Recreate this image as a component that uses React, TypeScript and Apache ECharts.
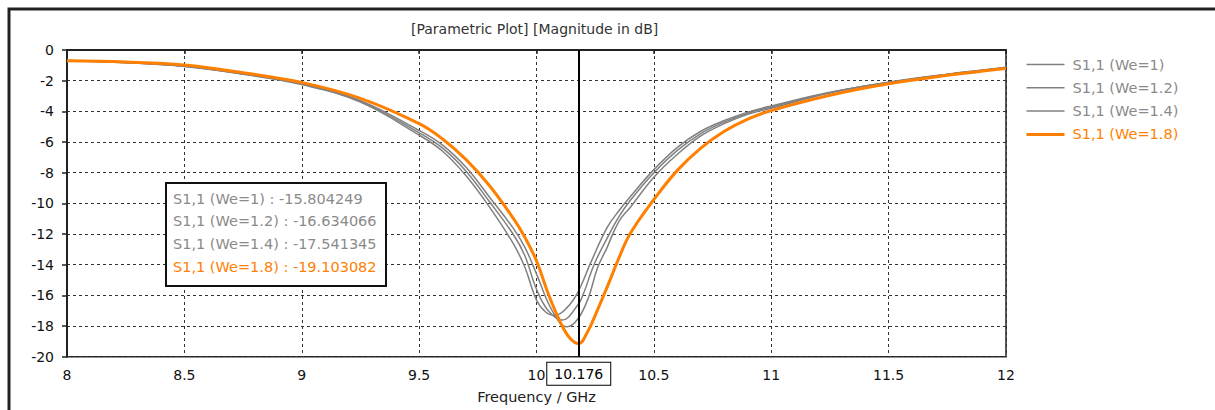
import React, { useEffect, useRef } from 'react';
import * as echarts from 'echarts';

const FONT = '"DejaVu Sans", Verdana, sans-serif';

const titleText = '[Parametric Plot] [Magnitude in dB]';
const xAxisName = 'Frequency / GHz';
const markerFreq = 10.176;

const seriesNames = ['S1,1 (We=1)', 'S1,1 (We=1.2)', 'S1,1 (We=1.4)', 'S1,1 (We=1.8)'];
const seriesColors = ['#808080', '#808080', '#808080', '#ff8000'];
const textColors = ['#8a8a8a', '#8a8a8a', '#8a8a8a', '#ff8000'];
const lineWidths = [1.5, 1.5, 1.5, 3];

const markerValues = ['-15.804249', '-16.634066', '-17.541345', '-19.103082'];

const we1: number[][] = [
  [8, -0.7], [8.25, -0.83], [8.5, -1.07], [8.75, -1.58], [9, -2.25], [9.25, -3.4],
  [9.5, -5.55], [9.6, -6.6], [9.7, -8.2], [9.8, -10.25], [9.9, -12.6], [9.95, -14.15],
  [10.0, -16.3], [10.04, -17.1], [10.08, -17.3], [10.13, -16.8], [10.176, -15.8],
  [10.23, -13.9], [10.3, -11.6], [10.35, -10.5], [10.4, -9.55], [10.5, -7.8], [10.6, -6.35],
  [10.7, -5.3], [10.8, -4.6], [10.9, -4.05], [11, -3.65], [11.25, -2.76], [11.5, -2.1],
  [11.75, -1.58], [12, -1.13],
];

const we12: number[][] = [
  [8, -0.69], [8.25, -0.82], [8.5, -1.06], [8.75, -1.56], [9, -2.22], [9.25, -3.35],
  [9.5, -5.4], [9.6, -6.4], [9.7, -7.9], [9.8, -9.9], [9.9, -12.0], [9.95, -13.4],
  [10.0, -15.6], [10.05, -17.0], [10.11, -17.6], [10.176, -16.63], [10.2, -15.9],
  [10.245, -14.0], [10.3, -12.3], [10.35, -10.9], [10.4, -9.8], [10.5, -8.0], [10.6, -6.55],
  [10.7, -5.45], [10.8, -4.7], [10.9, -4.12], [11, -3.72], [11.25, -2.78], [11.5, -2.11],
  [11.75, -1.59], [12, -1.14],
];

const we14: number[][] = [
  [8, -0.68], [8.25, -0.81], [8.5, -1.05], [8.75, -1.55], [9, -2.2], [9.25, -3.3],
  [9.5, -5.25], [9.6, -6.2], [9.7, -7.65], [9.8, -9.6], [9.9, -11.6], [9.95, -12.85],
  [10.0, -14.6], [10.05, -16.5], [10.1, -17.8], [10.13, -18.05], [10.176, -17.54],
  [10.22, -16.2], [10.26, -14.2], [10.3, -12.9], [10.35, -11.2], [10.4, -10.25], [10.5, -8.3],
  [10.6, -6.8], [10.7, -5.6], [10.8, -4.8], [10.9, -4.2], [11, -3.8], [11.25, -2.8],
  [11.5, -2.12], [11.75, -1.6], [12, -1.15],
];

const we18: number[][] = [
  [8, -0.7], [8.25, -0.78], [8.5, -0.98], [8.75, -1.48], [9, -2.12], [9.25, -3.15],
  [9.5, -4.8], [9.6, -5.8], [9.7, -7.15], [9.8, -8.85], [9.9, -10.95], [9.95, -12.2],
  [10.0, -13.75], [10.05, -15.9], [10.1, -17.7], [10.14, -18.75], [10.18, -19.15],
  [10.22, -18.3], [10.25, -17.3], [10.3, -15.5], [10.35, -13.6], [10.4, -11.95], [10.5, -9.75],
  [10.6, -7.85], [10.7, -6.4], [10.8, -5.3], [10.9, -4.5], [11, -3.95], [11.25, -2.95],
  [11.5, -2.2], [11.75, -1.65], [12, -1.2],
];

const seriesData = [we1, we12, we14, we18];

export default function App() {
  const ref = useRef<HTMLDivElement>(null);

  useEffect(() => {
    if (!ref.current) return;
    const chart = echarts.init(ref.current, undefined, { renderer: 'svg' });

    const series: any[] = seriesData.map((d, i) => ({
      name: seriesNames[i],
      type: 'line',
      data: d,
      showSymbol: false,
      symbol: 'none',
      smooth: 0.4,
      lineStyle: { color: seriesColors[i], width: lineWidths[i] },
      itemStyle: { color: seriesColors[i] },
      z: 3 + i,
      silent: true,
    }));

    series[3].markLine = {
      silent: true,
      symbol: ['none', 'none'],
      lineStyle: { color: '#000', width: 2, type: 'solid' },
      label: {
        show: true,
        position: 'start',
        distance: 6,
        formatter: String(markerFreq),
        color: '#000',
        fontFamily: FONT,
        fontSize: 14,
        lineHeight: 14,
        borderColor: '#000',
        borderWidth: 1,
        padding: [4, 7, 4, 7],
        backgroundColor: '#fff',
      },
      data: [{ xAxis: markerFreq }],
      z: 10,
    };

    const boxLeft = 166;
    const boxTop = 183;
    const annotationTexts = seriesNames.map((n, i) => ({
      type: 'text',
      left: boxLeft + 7,
      top: boxTop + 8 + i * 22.7,
      style: {
        text: `${n} : ${markerValues[i]}`,
        fill: textColors[i],
        font: `14.5px ${FONT}`,
      },
      z: 21,
    }));

    chart.setOption({
      animation: false,
      textStyle: { fontFamily: FONT },
      title: {
        text: titleText,
        left: 411,
        top: 22,
        padding: 0,
        textStyle: { fontSize: 14, fontWeight: 'normal', color: '#333', fontFamily: FONT },
      },
      legend: {
        orient: 'vertical',
        left: 1025,
        top: 57,
        padding: 0,
        itemWidth: 38,
        itemHeight: 14,
        itemGap: 8.3,
        selectedMode: false,
        textStyle: { fontSize: 14.5, lineHeight: 14, fontFamily: FONT, padding: [0, 0, 0, 3] },
        data: seriesNames.map((n, i) => ({
          name: n,
          itemStyle: { opacity: 0 },
          lineStyle: { color: seriesColors[i], width: lineWidths[i], opacity: 1 },
          textStyle: { color: textColors[i] },
        })),
      },
      grid: {
        left: 67,
        top: 50,
        right: 209,
        bottom: 53.3,
        show: true,
        borderColor: '#222',
        borderWidth: 1.5,
        backgroundColor: 'transparent',
      },
      xAxis: {
        type: 'value',
        min: 8,
        max: 12,
        interval: 0.5,
        name: xAxisName,
        nameLocation: 'middle',
        nameGap: 33,
        nameTextStyle: { fontSize: 14.5, color: '#222', fontFamily: FONT },
        axisLine: { show: true, lineStyle: { color: '#222', width: 2 } },
        axisTick: { show: true, length: 4, lineStyle: { color: '#222', width: 1.5 } },
        axisLabel: { fontSize: 14, color: '#111', margin: 11, fontFamily: FONT },
        splitLine: { show: true, lineStyle: { color: '#333', width: 1, type: [3, 3] } },
      },
      yAxis: {
        type: 'value',
        min: -20,
        max: 0,
        interval: 2,
        axisLine: { show: true, onZero: false, lineStyle: { color: '#222', width: 2 } },
        axisTick: { show: true, length: 5, lineStyle: { color: '#222', width: 1.5 } },
        axisLabel: { fontSize: 14, color: '#111', margin: 13, fontFamily: FONT },
        splitLine: { show: true, lineStyle: { color: '#333', width: 1, type: [3, 3] } },
      },
      graphic: [
        {
          type: 'rect',
          shape: { x: 9, y: 9, width: 1400, height: 700 },
          style: { fill: 'none', stroke: '#222', lineWidth: 3 },
          silent: true,
          z: 0,
        },
        {
          type: 'rect',
          shape: { x: boxLeft, y: boxTop, width: 220, height: 103 },
          style: { fill: '#fff', stroke: '#111', lineWidth: 2 },
          silent: true,
          z: 20,
        },
        ...annotationTexts,
      ],
      series,
    });

    return () => chart.dispose();
  }, []);

  return (
    <div
      ref={ref}
      style={{ position: 'absolute', left: 0, top: 0, width: 1215, height: 410, background: '#fff' }}
    />
  );
}
